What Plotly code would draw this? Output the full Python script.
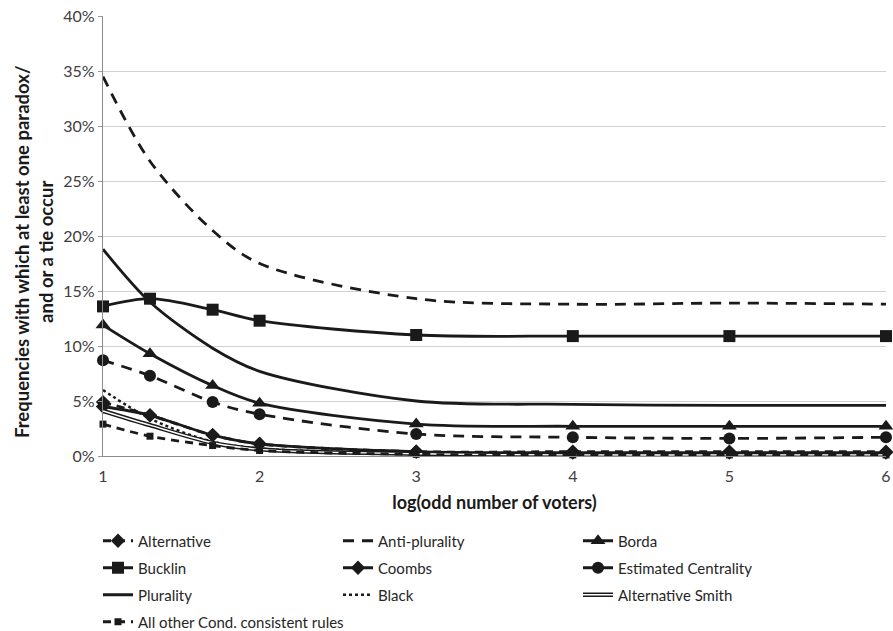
import plotly.graph_objects as go

x_vals = [1, 1.3, 1.7, 2, 3, 4, 5, 6]

alternative = [4.9, 3.7, 1.9, 1.1, 0.4, 0.4, 0.4, 0.4]
anti_plurality = [34.5, 26.8, 20.5, 17.5, 14.3, 13.8, 13.9, 13.8]
borda = [11.9, 9.3, 6.4, 4.8, 2.9, 2.7, 2.7, 2.7]
bucklin = [13.6, 14.3, 13.3, 12.3, 11.0, 10.9, 10.9, 10.9]
coombs = [4.5, 3.7, 1.9, 1.1, 0.4, 0.3, 0.3, 0.3]
est_centrality = [8.7, 7.3, 4.9, 3.8, 2.0, 1.7, 1.6, 1.7]
plurality = [18.8, 14.0, 9.8, 7.7, 5.0, 4.7, 4.6, 4.6]
black = [6.0, 3.4, 1.3, 0.7, 0.2, 0.1, 0.1, 0.1]
alt_smith = [4.1, 2.8, 1.2, 0.6, 0.2, 0.1, 0.1, 0.1]
all_other = [2.9, 1.8, 0.95, 0.5, 0.15, 0.1, 0.1, 0.1]

y_ticks = [0, 5, 10, 15, 20, 25, 30, 35, 40]
x_ticks = [1, 2, 3, 4, 5, 6]

FONT = "Lato, Open Sans, sans-serif"
BLK = "#1a1a1a"
W, H = 893, 631

fig = go.Figure()

def add(name, y, legend, dash="solid", width=2.8, symbol=None, msize=11, color=BLK):
    mode = "lines+markers" if symbol else "lines"
    fig.add_trace(go.Scatter(
        x=x_vals, y=y, name=name, mode=mode, legend=legend,
        line=dict(color=color, width=width, dash=dash, shape="spline", smoothing=0.9),
        marker=dict(symbol=symbol or "circle", size=msize, color=color),
        cliponaxis=False,
    ))

add("Alternative", alternative, "legend", dash="8px,6px", symbol="diamond", msize=11)
add("Anti-plurality", anti_plurality, "legend", dash="11px,8px")
add("Borda", borda, "legend", symbol="triangle-up", msize=13)
add("Bucklin", bucklin, "legend2", symbol="square", msize=12)
add("Coombs", coombs, "legend2", symbol="diamond", msize=11)
add("Estimated Centrality", est_centrality, "legend2", dash="11px,8px", symbol="circle", msize=12)
add("Plurality", plurality, "legend3")
add("Black", black, "legend3", dash="dot", width=2.4)
add("Alternative Smith", alt_smith, "legend3", width=4.4)
add(" ", alt_smith, "legend5", width=1.4, color="white")
add("All other Cond. consistent rules", all_other, "legend4", dash="8px,6px", symbol="square", msize=7)

row_y = [541, 568, 595, 622]
LEG_X = 98

def leg(ypx, xpx=LEG_X, ew=195):
    return dict(
        orientation="h", xref="container", yref="container",
        x=xpx / W, xanchor="left", y=1 - ypx / H, yanchor="middle",
        entrywidth=ew, entrywidthmode="pixels",
        font=dict(family=FONT, size=15, color="#262626"),
        bgcolor="rgba(0,0,0,0)", borderwidth=0,
    )

fig.update_layout(
    width=W, height=H,
    margin=dict(l=103, r=7, t=16, b=175, autoexpand=False),
    paper_bgcolor="white", plot_bgcolor="white",
    font=dict(family=FONT, size=15, color="#404040"),
    showlegend=True,
    legend=leg(row_y[0]),
    legend2=leg(row_y[1]),
    legend3=leg(row_y[2]),
    legend4=leg(row_y[3], ew=320),
    legend5=leg(row_y[2], LEG_X + 480),
)

fig.update_xaxes(
    range=[1, 6], tickvals=x_ticks, ticktext=[str(v) for v in x_ticks],
    showgrid=False, zeroline=False, automargin=False,
    showline=True, linecolor="#8c8c8c", linewidth=1.3,
    ticks="outside", ticklen=6, tickcolor="rgba(0,0,0,0)",
    ticklabeloverflow="allow",
    tickfont=dict(size=16, color="#404040"),
    title=dict(text="<b>log(odd number of voters)</b>", font=dict(size=18, color=BLK), standoff=12),
)
fig.update_yaxes(
    range=[0, 40], tickvals=y_ticks, ticktext=[f"{v}%" for v in y_ticks],
    showgrid=True, gridcolor="#d0d0d0", gridwidth=1.2, zeroline=False, automargin=False,
    showline=True, linecolor="#8c8c8c", linewidth=1.3,
    ticks="outside", ticklen=4, tickcolor="#9a9a9a",
    tickfont=dict(size=16, color="#404040"),
)

fig.add_annotation(
    text="<b>Frequencies with which at least one paradox/<br>and or a tie occur</b>",
    xref="paper", yref="paper",
    x=(34 - 103) / 783, y=(456 - 252) / 440, xanchor="center", yanchor="middle",
    textangle=-90, showarrow=False,
    font=dict(family=FONT, size=18.5, color=BLK),
)

fig.write_html(
    "out.html",
    config={"displayModeBar": False},
    post_script="document.body.style.margin='0';document.body.style.overflow='hidden';",
)
